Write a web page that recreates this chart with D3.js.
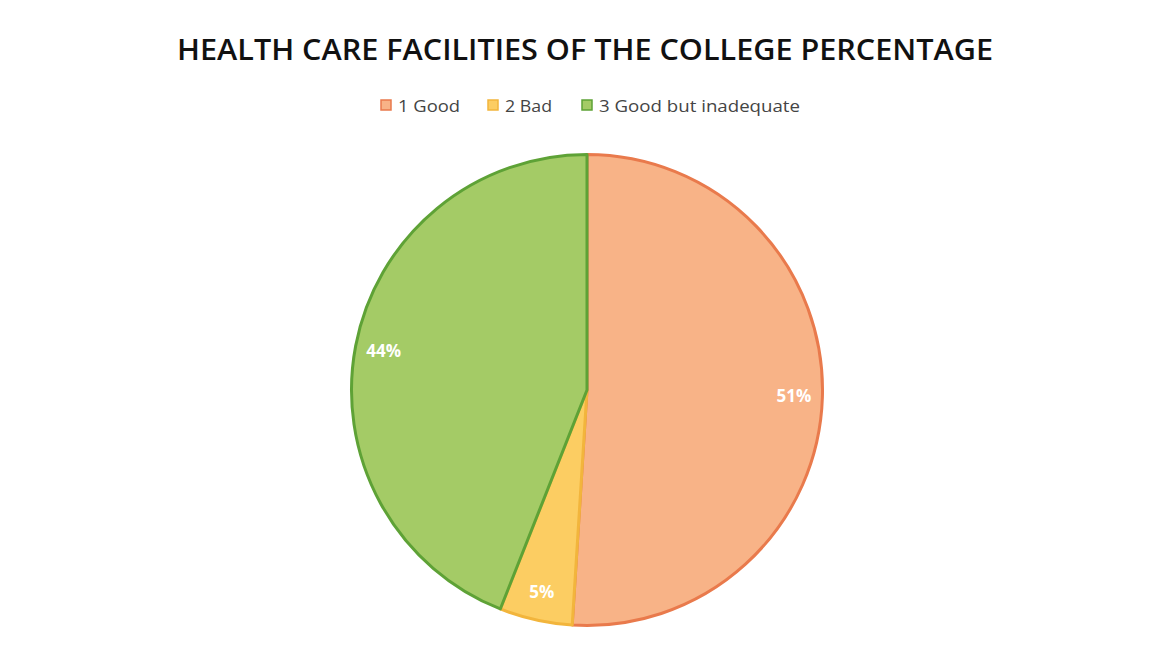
<!DOCTYPE html>
<html><head><meta charset="utf-8">
<script src="https://cdn.jsdelivr.net/npm/d3@7"></script>
<style>body{margin:0;background:#fff}</style>
</head><body>
<svg id="c" width="1162" height="649"></svg>
<script>
const categories = ["1 Good", "2 Bad", "3 Good but inadequate"];
const values = [51, 5, 44];
const labels = ["51%", "5%", "44%"];
const fills = ["#f8b387", "#fccd62", "#a4cb66"];
const edges = ["#e97a4c", "#f2b53c", "#5ea236"];
const titleText = "HEALTH CARE FACILITIES OF THE COLLEGE PERCENTAGE";

const svg = d3.select("#c");
svg.append("rect").attr("width",1162).attr("height",649).attr("fill","#fff");

svg.append("text").attr("x",585).attr("y",60).attr("text-anchor","middle")
  .attr("font-family","Open Sans, sans-serif").attr("font-weight",600)
  .attr("font-size",28).attr("fill","#111")
  .attr("textLength",816).attr("lengthAdjust","spacingAndGlyphs")
  .text(titleText);

const legX = [381, 488, 582];
const legW = [62, 47, 201];
const leg = svg.append("g");
categories.forEach((c,i)=>{
  leg.append("rect").attr("x",legX[i]).attr("y",100).attr("width",10).attr("height",10)
    .attr("fill",fills[i]).attr("stroke",edges[i]).attr("stroke-width",1.5);
  leg.append("text").attr("x",legX[i]+17).attr("y",112)
    .attr("font-family","Open Sans, sans-serif").attr("font-size",17).attr("fill","#444")
    .attr("textLength",legW[i]).attr("lengthAdjust","spacingAndGlyphs")
    .text(c);
});

const cx = 587, cy = 390, r = 237;
const pie = d3.pie().sort(null).value(d=>d)(values);
const arc = d3.arc().innerRadius(0).outerRadius(r-1.5);
const labelArc = d3.arc().innerRadius(207).outerRadius(207);
const g = svg.append("g").attr("transform",`translate(${cx},${cy})`);
g.selectAll("path").data(pie).join("path")
  .attr("d",arc).attr("fill",(d,i)=>fills[i])
  .attr("stroke",(d,i)=>edges[i]).attr("stroke-width",3).attr("stroke-linejoin","round");
g.selectAll("text").data(pie).join("text")
  .attr("transform",d=>`translate(${labelArc.centroid(d)})`)
  .attr("text-anchor","middle").attr("dy","0.35em")
  .attr("font-family","Open Sans, sans-serif").attr("font-weight",700)
  .attr("font-size",17).attr("fill","#fff")
  .text((d,i)=>labels[i]);
</script>
</body></html>
